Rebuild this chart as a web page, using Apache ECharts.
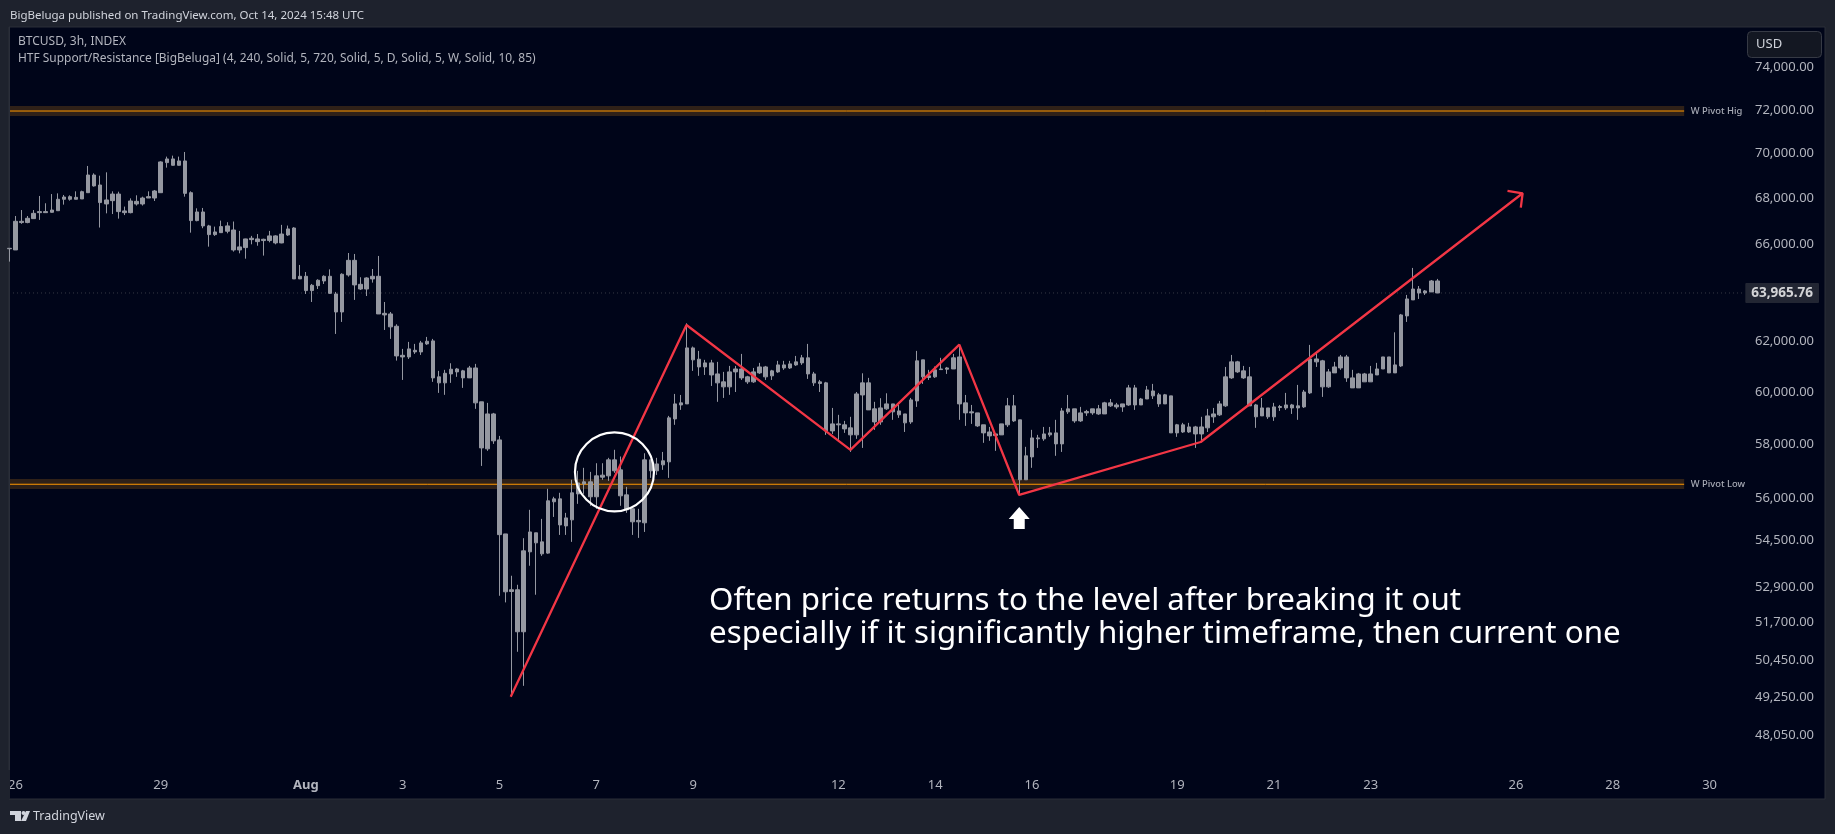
<!DOCTYPE html>
<html><head><meta charset="utf-8">
<style>html,body{margin:0;padding:0;background:#1e222d}#c{width:1835px;height:834px}</style>
<script src="https://cdn.jsdelivr.net/npm/echarts@6/dist/echarts.min.js"></script>
</head><body><div id="c"></div>
<script>
// Bars are 3h apart starting one bar before 26 Jul 2024 00:00 UTC
const firstBarIndex = -1;
const bodyTop = [65840,67000,67000,67130,67345,67420,67420,67490,67960,68060,68075,68045,68295,69035,69035,68590,67930,68190,68190,67450,67885,67870,68015,68075,68325,69620,69755,69755,69665,69665,68250,67405,67405,66800,66540,66770,66800,66625,65900,66240,66270,66240,66225,66370,66370,66450,66670,66710,
64660,64660,64285,64495,64660,64660,63925,64745,65330,65330,64325,64590,64660,64660,63130,63105,62605,61440,61695,61640,61935,62000,62015,60590,60730,60890,60900,60825,60940,60940,59620,59155,59155,
58170,54740,52800,52800,54145,54810,54780,54460,55925,55995,55995,55310,56215,56575,56615,56615,56835,56860,57425,57425,57055,56140,55635,55220,57425,57425,57275,57390,
59005,59540,59580,61735,61735,61285,61140,61140,60705,60395,60785,60900,60900,60590,60785,60980,60980,60825,61060,61060,61100,61180,61340,61340,60705,60395,60355,58775,58775,58740,58625,59925,60355,60355,59350,59385,59540,59540,59270,59155,59695,61220,61260,60630,60865,60900,60940,61340,61375,59580,59235,59195,58740,58470,58395,58775,59465,59465,58930,57575,58245,58245,58395,58435,58435,
59270,59350,59350,59195,59250,59350,59350,59580,59580,59500,59540,60160,60160,59730,60080,60040,59890,59890,59850,58740,58740,58660,58660,58660,59080,59155,59540,60590,61180,61180,60825,60590,59500,59385,59385,59425,59440,59500,59500,59465,60000,61295,61295,61220,60785,60980,61375,61375,60550,60705,60705,60705,60900,61375,61375,61060,63065,63720,64130,64130,64050,64465,64465];
const bodyBottom = [65820,65770,66945,66945,67115,67375,67375,67390,67460,67960,67960,67960,67975,68250,68550,67815,67755,67900,67420,67375,67375,67755,67755,68015,68015,68250,69590,69470,69470,68220,67030,67030,66800,66425,66425,66510,66570,65770,65770,65870,66210,66125,66170,66170,66070,66070,66410,64550,
64550,64065,64065,64270,64465,63950,63185,63185,64715,64300,64130,64130,64550,63105,63065,62580,61415,61375,61375,61575,61575,61895,60550,60355,60355,60705,60785,60550,60550,59580,57870,57835,58135,
54715,52730,52740,51385,51385,54110,54425,54040,54065,55890,55060,55025,55240,56175,56540,56070,56070,56785,56835,57020,56105,55600,55170,55170,55135,57020,57020,57240,
57350,58965,59500,59540,61260,60980,60980,60665,60355,60200,60200,60785,60550,60395,60395,60745,60590,60630,60785,60940,60940,61060,61140,60705,60355,60330,58510,58510,58740,58585,58360,58360,59885,59310,58850,58850,59350,59235,59120,58815,58850,59655,60590,60565,60590,60875,60890,60900,59540,59195,59195,58700,58435,58320,58335,58360,58740,58890,56690,56690,57535,58210,58210,58360,58020,
58020,59235,58890,58890,59195,59195,59155,59155,59465,59425,59425,59500,59500,59500,59730,59850,59540,59540,58435,58435,58470,58470,58395,58395,58625,59045,59120,59465,60550,60785,60550,59465,59045,59080,59045,59045,59400,59385,59385,59385,59425,59965,61180,60200,60200,60745,60940,60550,60160,60160,60395,60395,60665,60900,60745,60745,61020,63025,63680,63966,63966,64010,63965.76];
const wickHigh = [65840,67230,67490,67230,67490,68105,67785,68190,68220,68150,68135,68310,68340,69440,69110,69005,69155,68310,68295,67640,68000,68135,68075,68310,68370,69650,69860,69905,69860,70070,68310,67565,67580,66845,66770,67030,66960,66990,66585,66250,66370,66450,66250,66585,66400,66845,66815,66745,
65135,64840,64340,64535,64700,64950,64010,64785,65640,65600,64620,64620,64965,65515,63595,63185,62685,61695,61975,61895,62015,62175,62095,60825,60865,61125,60940,60865,61020,61100,59620,59580,59195,
58320,54740,53280,52970,54590,55600,54780,55275,56360,56070,56215,55490,56690,57020,57130,56980,57300,57300,57500,57800,57550,56430,55635,55635,57670,57425,57500,57720,
59080,59925,59885,62725,61790,61615,61260,61260,61180,60785,61020,61020,61495,60630,60940,61140,61020,60865,61220,61220,61220,61415,61455,61895,60785,60470,60395,59385,59120,58890,59045,60000,60730,60550,59620,59760,59950,59540,59500,59155,59770,61615,61260,60865,60995,61340,60980,61495,61855,59885,59500,59195,58740,58660,58395,58775,59770,59885,58930,57910,58550,58360,58660,58660,58930,
59385,59885,59350,59425,59310,59350,59500,59620,59730,59580,59540,60275,60275,59770,60235,60315,59965,59925,59850,58775,58815,58815,58700,59045,59350,59385,59655,60980,61455,61220,61020,60980,59540,59770,59385,59580,59500,59965,59540,60275,60080,61855,61575,61260,60900,61180,61455,61455,60865,60745,60745,61020,61140,61375,61375,62360,63105,63885,65010,64255,64090,64505,64550];
const wickLow = [65276,65770,66890,66915,67115,67060,67375,67375,67460,67725,67900,67960,67975,68250,68520,66730,67345,67315,67115,67270,67345,67685,67685,68015,67885,68250,69365,69455,69455,68075,66510,67000,66700,65910,66370,66510,66480,65700,65627,65400,66010,65950,65530,66095,66010,66055,66370,64550,
64550,63925,63595,64130,64340,63925,62295,62780,64645,63680,64090,63840,64395,63105,62455,62095,61230,60470,61295,61495,61455,61855,60395,59965,59890,60355,60590,60160,60550,59350,57200,57760,58020,
52595,52370,49280,50725,49620,53625,52630,53970,54040,55345,54705,54705,54460,55815,56175,55745,55635,56690,56650,56945,55745,55490,54705,54600,54810,56760,56870,57055,
56760,58740,59310,59540,60825,60630,60665,60235,59620,59770,59890,60000,60470,60315,60355,60705,60470,60470,60745,60865,60900,61020,61060,60510,60235,60000,58360,58395,58170,58435,57720,58210,57870,59310,58550,58740,59310,58930,59005,58470,58775,59425,60315,60470,60550,60865,60705,60900,58930,58700,58775,58660,58060,58135,57760,58360,58660,58850,56140,56690,57130,57870,58135,58285,57575,
57720,59155,58815,58850,59080,59120,59120,59155,59425,59350,59235,59465,59310,59500,59730,59730,59425,59540,58435,58285,58435,58435,57870,58135,58470,58815,59080,59425,60510,60745,60510,59465,58625,59080,58965,58890,59270,59310,59155,58930,59385,59925,60980,59810,60160,60745,60865,60395,60160,60160,60395,60395,60665,60900,60745,60745,60980,62780,63680,63720,63885,64010,63965.76];

const priceTicks = [74000,72000,70000,68000,66000,62000,60000,58000,56000,54500,52900,51700,50450,49250,48050];
const lastPrice = 63965.76;
const dateTicks = ['2024-07-26','2024-07-29','2024-08-01','2024-08-03','2024-08-05','2024-08-07','2024-08-09','2024-08-12','2024-08-14','2024-08-16','2024-08-19','2024-08-21','2024-08-23','2024-08-26','2024-08-28','2024-08-30'];
// Weekly pivot levels
const pivotHigh = 71950, pivotHighBand = [71715,72185];
const pivotLow = 56526, pivotLowBand = [56355,56720];
// Hand-drawn annotations as [bar index, price]
const zigzag = [[81.85,49273],[110.9,62656],[138,57794],[156,61864],[165.9,56136],[195.9,58092],[249.1,68224]];
const arrowHead = [[246.6,68326],[249.1,68224],[248.8,67592]];
const circleAt = [99,56980];
const upArrowAt = [165.9,55305];

const BAR = 3*3600*1000, T0 = Date.UTC(2024,6,26);
const tAt = k => T0 + k*BAR;
const axisMinBar = -1.074, axisMaxBar = 299.08, pivotEndBar = 275.8, dottedEndBar = 285.5, tagBar = 292.0, labelBar = 276.9;
const candles = bodyTop.map((t,i)=>[tAt(i+firstBarIndex), bodyBottom[i], t, wickLow[i], wickHigh[i]]);
const UI = '"Noto Sans"';
const panel = '#000519', grey = '#9598a1', band = '#2f2118', orange = '#ff9800', red = '#f23645';
const pts = a => a.map(p=>[tAt(p[0]),p[1]]);
function level(name,price,bandV,label){
  return [{name:name,type:'line',z:1,silent:true,showSymbol:false,symbol:'none',animation:false,
    data:[[tAt(axisMinBar),price],[tAt(pivotEndBar),price]],lineStyle:{color:orange,width:1},
    markArea:{silent:true,itemStyle:{color:band,opacity:1},data:[[{coord:[tAt(axisMinBar),bandV[1]]},{coord:[tAt(pivotEndBar),bandV[0]]}]]}},
   {name:name+' label',type:'scatter',z:4,silent:true,symbolSize:0,data:[[tAt(labelBar),price]],animation:false,
    label:{show:true,position:'right',distance:0,formatter:label,color:'#d1d4dc',fontFamily:UI,fontSize:9.4,fontWeight:500}}];
}
const chart = echarts.init(document.getElementById('c'),null,{renderer:'canvas'});
chart.setOption({
  useUTC:true, animation:false, backgroundColor:'#1e222d',
  grid:{left:9,top:27,right:10,bottom:35,show:true,backgroundColor:panel,borderColor:'#2a2e39',borderWidth:1,containLabel:false},
  xAxis:{type:'value',scale:true,min:tAt(axisMinBar),max:tAt(axisMaxBar),axisLine:{show:false},axisTick:{show:false},splitLine:{show:false},
    axisLabel:{inside:true,margin:7.5,color:'#b2b5be',fontFamily:UI,fontSize:13,hideOverlap:false,showMinLabel:true,showMaxLabel:true,
      customValues:dateTicks.map(d=>Date.parse(d+'T00:00:00Z')),
      formatter:v=>{const d=new Date(v);return d.getUTCDate()===1?'{b|Aug}':String(d.getUTCDate());},
      rich:{b:{fontWeight:'bold',color:'#b2b5be',fontFamily:UI,fontSize:13}}}},
  yAxis:{type:'log',logBase:10,min:46120,max:75966,position:'right',axisLine:{show:false},axisTick:{show:false},splitLine:{show:false},
    axisLabel:{inside:true,margin:11,color:'#b2b5be',fontFamily:UI,fontSize:13,customValues:priceTicks,
      formatter:v=>Number(v).toLocaleString('en-US',{minimumFractionDigits:2,maximumFractionDigits:2})}},
  series:[
    ...level('W Pivot High',pivotHigh,pivotHighBand,'W Pivot High'),
    ...level('W Pivot Low',pivotLow,pivotLowBand,'W Pivot Low'),
    {name:'last',type:'line',z:1,symbol:'none',silent:true,data:[[tAt(axisMinBar),lastPrice],[tAt(dottedEndBar),lastPrice]],lineStyle:{color:'#363a45',width:1,type:[1,3]}},
    {name:'BTCUSD',type:'candlestick',z:2,barWidth:4,silent:true,data:candles.map(c=>[c[0],c[1],c[2],c[3],c[4]]),encode:{x:0,y:[1,2,3,4]},
      itemStyle:{color:grey,color0:grey,borderColor:grey,borderColor0:grey,borderWidth:1}},
    {name:'zigzag',type:'line',z:3,symbol:'none',silent:true,data:pts(zigzag),lineStyle:{color:red,width:2.3}},
    {name:'arrowHead',type:'line',z:3,symbol:'none',silent:true,data:pts(arrowHead),lineStyle:{color:red,width:2.3}},
    {name:'circle',type:'scatter',z:3,silent:true,symbol:'circle',symbolSize:79,data:pts([circleAt]),itemStyle:{color:'rgba(0,0,0,0)',borderColor:'#ffffff',borderWidth:2.2,opacity:1}},
    {name:'up',type:'scatter',z:3,silent:true,symbol:'path://M10.5 0L21 12H16V22H5V12H0Z',symbolSize:[21,22],data:pts([upArrowAt]),itemStyle:{color:'#ffffff',opacity:1}},
    {name:'lastTag',type:'scatter',z:5,silent:true,symbolSize:0,data:[[tAt(tagBar),lastPrice]],
      label:{show:true,position:'inside',formatter:lastPrice.toLocaleString('en-US'),color:'#ffffff',fontFamily:UI,fontSize:13.5,fontWeight:'bold',backgroundColor:'#2a2e39',padding:[3,6,3,6],borderRadius:1}}
  ],
  graphic:[
    {type:'text',left:10,top:10,z:10,style:{text:'BigBeluga published on TradingView.com, Oct 14, 2024 15:48 UTC',fill:'#d1d4dc',font:'11.5px '+UI}},
    {type:'text',left:18,top:36,z:10,style:{text:'BTCUSD, 3h, INDEX',fill:'#b2b5be',font:'12px '+UI}},
    {type:'text',left:18,top:53,z:10,style:{text:'HTF Support/Resistance [BigBeluga] (4, 240, Solid, 5, 720, Solid, 5, D, Solid, 5, W, Solid, 10, 85)',fill:'#b2b5be',font:'11.95px '+UI}},
    {type:'rect',left:1747,top:31,z:10,shape:{width:74,height:26,r:4},style:{fill:'#131722',stroke:'#363a45',lineWidth:1}},
    {type:'text',left:1756,top:38,z:11,style:{text:'USD',fill:'#d1d4dc',font:'13px '+UI}},
    {type:'text',left:709,top:586,z:10,style:{text:'Often price returns to the level after breaking it out',fill:'#ffffff',font:'31.3px '+UI}},
    {type:'text',left:709,top:619,z:10,style:{text:'especially if it significantly higher timeframe, then current one',fill:'#ffffff',font:'31.3px '+UI}},
    {type:'rect',left:1743,top:102,z:6,shape:{width:7,height:18},style:{fill:panel}},
    {type:'rect',left:9,top:27,z:1.6,shape:{width:1,height:772},style:{fill:'#2a2e39'}},
    {type:'rect',left:0,top:770,z:12,shape:{width:10,height:29},style:{fill:'#1e222d'}},
    {type:'polygon',z:12,shape:{points:[[10,811],[21,811],[21,821],[15,821],[15,815],[10,815]]},style:{fill:'#d1d4dc'}},
    {type:'circle',z:12,shape:{cx:23.5,cy:813,r:2},style:{fill:'#d1d4dc'}},
    {type:'polygon',z:12,shape:{points:[[26,811],[30,811],[26,821],[21,821]]},style:{fill:'#d1d4dc'}},
    {type:'text',left:33,top:810,z:12,style:{text:'TradingView',fill:'#d1d4dc',font:'12.5px '+UI}}
  ]
});
</script></body></html>
